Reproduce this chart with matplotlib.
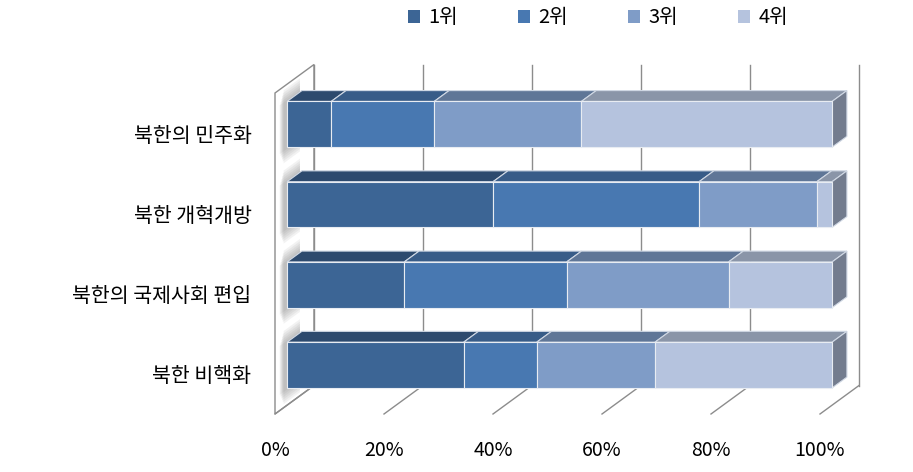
import matplotlib.pyplot as plt
from matplotlib.patches import Polygon, Patch

plt.rcParams['font.family'] = ['Noto Sans CJK KR', 'DejaVu Sans']

categories = ['북한의 민주화', '북한 개혁개방', '북한의 국제사회 편입', '북한 비핵화']
ranks = ['1위', '2위', '3위', '4위']
rank1 = [8.1, 37.8, 21.5, 32.4]
rank2 = [18.9, 37.8, 29.8, 13.4]
rank3 = [27.0, 21.6, 29.7, 21.7]
rank4 = [46.0, 2.8, 19.0, 32.5]
xticks = [0, 20, 40, 60, 80, 100]

series = [rank1, rank2, rank3, rank4]
front_c = ['#3C6595', '#4878B1', '#7F9CC7', '#B5C3DE']
top_c = ['#2D4A6E', '#385C88', '#5F7697', '#8A95A8']
side_c = ['#2A4466', '#34567F', '#596E8C', '#737C8E']
grid_c = '#8C8C8C'

fig = plt.figure(figsize=(9.13, 4.72), dpi=100)
ax = fig.add_axes([275 / 913, 58 / 472, 545 / 913, 321 / 472])
ax.set_xlim(0, 100)
ax.set_ylim(3.5, -0.5)
ax.patch.set_visible(False)
for s in ax.spines.values():
    s.set_visible(False)

# depth vector of the 3d box, in data units
DX = 39 / 545 * 100
DY = -28.5 / 321 * 4
f0, f1 = 0.31, 0.69
h = 0.57
ytop, ybot = -0.5, 3.5

# left wall
wall = Polygon([(0, ybot), (0, ytop), (DX, ytop + DY), (DX, ybot + DY)],
               closed=True, facecolor='white', edgecolor=grid_c, lw=1,
               clip_on=False, zorder=1)
ax.add_patch(wall)

# back wall gridlines and floor lines
for t in xticks:
    ax.plot([t + DX, t + DX], [ytop + DY, ybot + DY], color=grid_c, lw=1,
            clip_on=False, zorder=1)
    ax.plot([t, t + DX], [ybot, ybot + DY], color=grid_c, lw=1,
            clip_on=False, zorder=1)

# soft shadows of the bars on the left wall
for i in range(len(categories)):
    for k in range(6):
        e = 0.02 + 0.03 * k
        d0, d1 = 0.12 + 0.02 * k, f1 - 0.05
        pts = [(d0 * DX, i - h / 2 - e + d0 * DY), (d1 * DX, i - h / 2 - e + d1 * DY),
               (d1 * DX, i + h / 2 + e + d1 * DY), (d0 * DX, i + h / 2 + e + d0 * DY)]
        ax.add_patch(Polygon(pts, closed=True, facecolor='#606060', edgecolor='none',
                             alpha=0.08, clip_on=False, zorder=2))

# bars
lefts = [0] * len(categories)
for j, vals in enumerate(series):
    for i, v in enumerate(vals):
        l = lefts[i]
        r = l + v
        yc = i + f0 * DY
        yt = yc - h / 2
        yb = yc + h / 2
        dd = f1 - f0
        topf = [(l + f0 * DX, yt), (r + f0 * DX, yt),
                (r + f1 * DX, yt + dd * DY), (l + f1 * DX, yt + dd * DY)]
        ax.add_patch(Polygon(topf, closed=True, facecolor=top_c[j],
                             edgecolor='#D0D8E4', lw=0.8, clip_on=False, zorder=3))
        if j == len(series) - 1:
            sidef = [(r + f0 * DX, yt), (r + f0 * DX, yb),
                     (r + f1 * DX, yb + dd * DY), (r + f1 * DX, yt + dd * DY)]
            ax.add_patch(Polygon(sidef, closed=True, facecolor=side_c[j],
                                 edgecolor='#D0D8E4', lw=0.8, clip_on=False, zorder=3))
        lefts[i] = r
    ax.barh([i + f0 * DY for i in range(len(categories))], vals,
            left=[lefts[i] - vals[i] + f0 * DX for i in range(len(categories))],
            height=h, color=front_c[j], edgecolor='#E8ECF2', lw=0.8,
            clip_on=False, zorder=4)

ax.set_xticks(xticks)
ax.set_xticklabels([f'{t}%' for t in xticks])
ax.set_yticks(range(len(categories)))
ax.set_yticklabels(categories)
ax.tick_params(axis='x', length=0, pad=19, labelsize=14)
ax.tick_params(axis='y', length=0, pad=17, labelsize=14.8)

handles = [Patch(facecolor=c, edgecolor='none') for c in front_c]
fig.legend(handles, ranks, loc='center', bbox_to_anchor=(0.655, 0.962), ncol=4,
           frameon=False, fontsize=14.5, handlelength=0.6, handleheight=0.6,
           handletextpad=0.4, columnspacing=3.0)

fig.savefig('out.png', dpi=100)
